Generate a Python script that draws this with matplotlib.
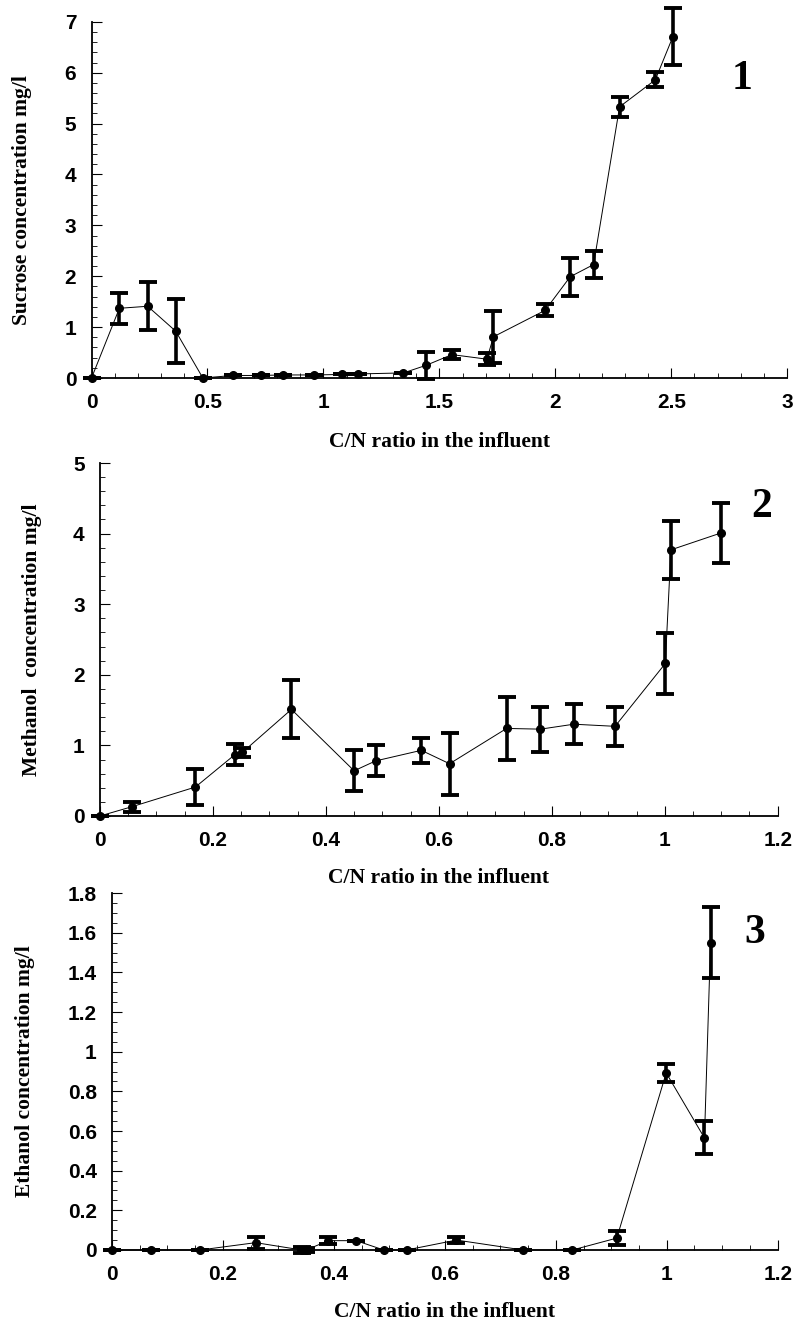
import matplotlib
matplotlib.use('Agg')
import matplotlib.pyplot as plt
from matplotlib.ticker import MultipleLocator, FormatStrFormatter

# panel 1 - sucrose
sucrose_cn = [0, 0.12, 0.242, 0.363, 0.48, 0.61, 0.73, 0.825, 0.96, 1.082, 1.151, 1.345,
              1.443, 1.554, 1.705, 1.733, 1.956, 2.064, 2.165, 2.277, 2.431, 2.507]
sucrose_conc = [0, 1.37, 1.41, 0.92, 0, 0.05, 0.05, 0.06, 0.06, 0.07, 0.08, 0.1,
                0.25, 0.46, 0.37, 0.81, 1.33, 1.99, 2.23, 5.33, 5.86, 6.71]
sucrose_err = [0, 0.3, 0.47, 0.63, 0, 0, 0, 0, 0, 0, 0, 0,
               0.27, 0.09, 0.12, 0.51, 0.12, 0.37, 0.26, 0.2, 0.15, 0.56]

# panel 2 - methanol
methanol_cn = [0, 0.056, 0.169, 0.239, 0.252, 0.339, 0.45, 0.488, 0.569, 0.619,
               0.72, 0.78, 0.839, 0.912, 1.001, 1.011, 1.10]
methanol_conc = [0, 0.13, 0.41, 0.87, 0.9, 1.51, 0.64, 0.78, 0.93, 0.74,
                 1.24, 1.23, 1.3, 1.27, 2.16, 3.77, 4.01]
methanol_err = [0, 0.07, 0.26, 0.15, 0.07, 0.41, 0.29, 0.22, 0.18, 0.44,
                0.44, 0.32, 0.28, 0.28, 0.43, 0.41, 0.42]

# panel 3 - ethanol
ethanol_cn = [0, 0.07, 0.159, 0.259, 0.342, 0.35, 0.39, 0.44, 0.49, 0.531, 0.621,
              0.741, 0.83, 0.91, 0.999, 1.068, 1.079]
ethanol_conc = [0, 0, 0, 0.037, 0, 0, 0.047, 0.047, 0, 0, 0.05,
                0, 0, 0.06, 0.893, 0.565, 1.55]
ethanol_err = [0, 0, 0, 0.03, 0.015, 0.01, 0.018, 0, 0, 0, 0.015,
               0, 0, 0.035, 0.046, 0.083, 0.18]

panels = [
    dict(x=sucrose_cn, y=sucrose_conc, e=sucrose_err, ylabel='Sucrose concentration mg/l',
         xlim=3, ylim=7, xmaj=0.5, xmin=0.1, ymaj=1, ymin=0.2, tag='1', tag_xy=(2.76, 5.88),
         rect=[0.115, 0.7145, 0.874, 0.269], xlab_y=-0.18, ylab_x=-0.100),
    dict(x=methanol_cn, y=methanol_conc, e=methanol_err, ylabel='Methanol  concentration mg/l',
         xlim=1.2, ylim=5, xmaj=0.2, xmin=0.05, ymaj=1, ymin=0.2, tag='2', tag_xy=(1.153, 4.38),
         rect=[0.1256, 0.3837, 0.8514, 0.2666], xlab_y=-0.176, ylab_x=-0.100),
    dict(x=ethanol_cn, y=ethanol_conc, e=ethanol_err, ylabel='Ethanol concentration mg/l',
         xlim=1.2, ylim=1.8, xmaj=0.2, xmin=0.05, ymaj=0.2, ymin=0.05, tag='3', tag_xy=(1.14, 1.60),
         rect=[0.1407, 0.0559, 0.8363, 0.2696], xlab_y=-0.174, ylab_x=-0.131),
]

fig = plt.figure(figsize=(7.96, 13.24), dpi=100)

for p in panels:
    ax = fig.add_axes(p['rect'])
    ax.plot(p['x'], p['y'], color='black', lw=0.7, marker='o', ms=5.5, clip_on=False, zorder=3)
    ax.errorbar(p['x'], p['y'], yerr=p['e'], fmt='none', ecolor='black', elinewidth=2.6,
                capsize=6.5, capthick=2.8, clip_on=False, zorder=4)
    ax.set_xlim(0, p['xlim'])
    ax.set_ylim(0, p['ylim'])
    ax.xaxis.set_major_locator(MultipleLocator(p['xmaj']))
    ax.xaxis.set_minor_locator(MultipleLocator(p['xmin']))
    ax.yaxis.set_major_locator(MultipleLocator(p['ymaj']))
    ax.yaxis.set_minor_locator(MultipleLocator(p['ymin']))
    ax.xaxis.set_major_formatter(FormatStrFormatter('%g'))
    ax.yaxis.set_major_formatter(FormatStrFormatter('%g'))
    ax.spines['top'].set_visible(False)
    ax.spines['right'].set_visible(False)
    for s in ('left', 'bottom'):
        ax.spines[s].set_linewidth(1.3)
    ax.tick_params(which='major', direction='in', length=7, width=0.8, pad=11)
    ax.tick_params(which='minor', direction='in', length=3.5, width=0.6)
    for lab in ax.get_xticklabels() + ax.get_yticklabels():
        lab.set_fontfamily('Liberation Sans')
        lab.set_fontweight('bold')
        lab.set_fontsize(15)
    ax.set_xlabel('C/N ratio in the influent', family='Liberation Serif', weight='bold', fontsize=15.5)
    ax.set_ylabel(p['ylabel'], family='Liberation Serif', weight='bold', fontsize=15.5)
    ax.xaxis.set_label_coords(0.5, p['xlab_y'])
    ax.yaxis.set_label_coords(p['ylab_x'], 0.5)
    ax.xaxis.label.set_verticalalignment('center')
    ax.yaxis.label.set_verticalalignment('center')
    ax.text(p['tag_xy'][0], p['tag_xy'][1], p['tag'], family='Liberation Serif', weight='bold',
            fontsize=30, ha='left', va='center')

fig.savefig('out.png', dpi=100)
